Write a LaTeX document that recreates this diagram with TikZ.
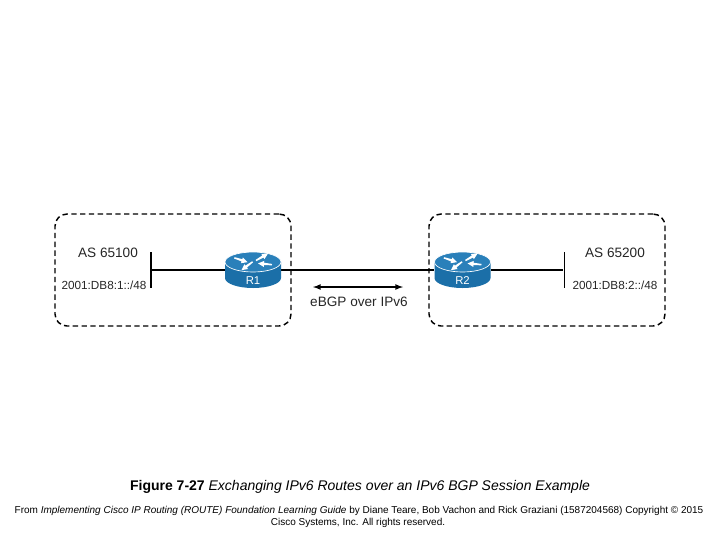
\documentclass[tikz,border=0pt]{standalone}
\usepackage{fontspec}
\setmainfont{Liberation Sans}
\definecolor{routerblue}{HTML}{1B6FA8}
\definecolor{routertop}{HTML}{2A80BA}
\def\router{%
    \fill [routerblue] (-28,-8) -- (-28,8) arc (180:360:21pt and 7.5pt) -- (28,-8) -- cycle;
    \filldraw [fill=routertop,draw=white,line width=0.5pt] (0,-8) ellipse (21pt and 7.5pt);
    \foreach \x / \y / \a in {-12/-10/-18,9/-13/30,-6/-4/217,12/-6/175}
    {
    \begin{scope}[shift={(\x,\y)},rotate=\a]
    \fill [white] (-7,-0.7) -- (1,-1.2) -- (1,-3) -- (7,0) -- (1,3) -- (1,1.2) -- (-7,0.7) -- cycle;
    \end{scope}
    }
}
\tikzset{
    asbox/.style={draw,dashed,line width=1.1pt,rounded corners=9pt,minimum width=177pt,minimum height=84pt,dash pattern=on 4pt off 2.6pt},
    routerbox/.style={minimum width=42pt,minimum height=27pt,inner sep=0pt},
    routername/.style={white,font=\fontsize{8.5}{10}\selectfont},
    lan/.style={fill=black,inner sep=0pt,minimum width=1.2pt,minimum height=27pt},
    link/.style={line width=1.4pt},
    aslabel/.style={font=\fontsize{10.2}{12}\selectfont,text=black!85},
    netlabel/.style={font=\fontsize{8.8}{11}\selectfont,text=black!85},
    session/.style={line width=1pt,<->,>=latex}
}
\begin{document}
\begin{tikzpicture}[x=0.75pt,y=-0.75pt]
\useasboundingbox (0,0) rectangle (720,540);
\node [asbox] (as1) at (173,270) {};
\node [asbox] (as2) at (547,270) {};
\node [lan] (lan1) at (151,270) {};
\node [lan] (lan2) at (564.5,270) {};
\node [routerbox] (R1) at (253,270) {};
\node [routerbox] (R2) at (462.5,270) {};
\draw [link] (lan1) -- (R1);
\draw [link] (R1) -- (R2);
\draw [link] (R2) -- (lan2);
\begin{scope}[shift={(253,270)}]
\router
\end{scope}
\begin{scope}[shift={(462.5,270)}]
\router
\end{scope}
\node [routername] (name1) at (253,281) {R1};
\node [routername] (name2) at (462.5,281) {R2};
\node [aslabel] (asn1) at (108,253) {AS 65100};
\node [aslabel] (asn2) at (615,253) {AS 65200};
\node [netlabel] (net1) at (104,285) {2001:DB8:1::/48};
\node [netlabel] (net2) at (615,285) {2001:DB8:2::/48};
\coordinate (sessL) at (313,287);
\coordinate (sessR) at (403,287);
\draw [session] (sessL) -- (sessR);
\node [aslabel] (sesslabel) at (359,302) {eBGP over IPv6};
\node [font=\fontsize{10.5}{12}\selectfont] (caption) at (360,487) {\textbf{Figure 7-27} \textit{Exchanging IPv6 Routes over an IPv6 BGP Session Example}};
\node [font=\fontsize{7.5}{9}\selectfont] (source1) at (359,511) {From \textit{Implementing Cisco IP Routing (ROUTE) Foundation Learning Guide} by Diane Teare, Bob Vachon and Rick Graziani (1587204568) Copyright © 2015};
\node [font=\fontsize{7.5}{9}\selectfont] (source2) at (358,523) {Cisco Systems, Inc. All rights reserved.};
\end{tikzpicture}
\end{document}
